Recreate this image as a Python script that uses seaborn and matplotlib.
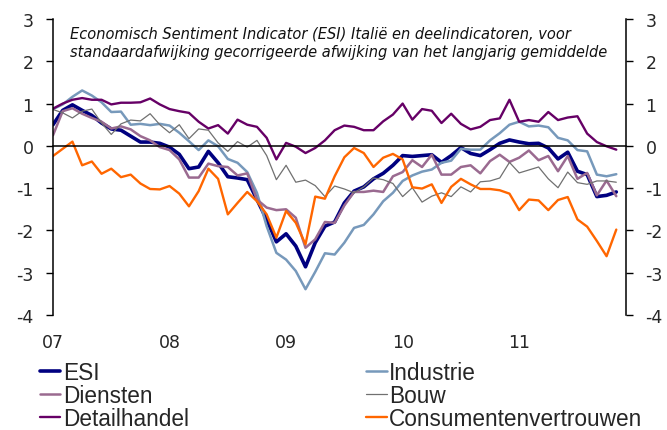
import numpy as np
import pandas as pd
import matplotlib
matplotlib.use("Agg")
import matplotlib.pyplot as plt
import seaborn as sns

esi = [0.50, 0.84, 0.97, 0.84, 0.72, 0.54, 0.40, 0.37, 0.23, 0.09, 0.09, 0.06, -0.03, -0.20, -0.54, -0.50,
       -0.13, -0.40, -0.73, -0.76, -0.80, -1.27, -1.74, -2.27, -2.08, -2.37, -2.86, -2.29, -1.90, -1.80, -1.35, -1.07,
       -0.97, -0.78, -0.65, -0.46, -0.23, -0.25, -0.23, -0.21, -0.39, -0.23, -0.04, -0.18, -0.23, -0.09, 0.06, 0.14,
       0.09, 0.05, 0.06, -0.05, -0.31, -0.15, -0.60, -0.68, -1.20, -1.17, -1.09]
industrie = [0.87, 0.98, 1.16, 1.31, 1.19, 1.03, 0.80, 0.81, 0.50, 0.52, 0.49, 0.52, 0.48, 0.31, 0.11, -0.10,
             0.13, -0.01, -0.31, -0.40, -0.62, -1.11, -1.90, -2.53, -2.69, -2.96, -3.39, -2.98, -2.54, -2.57, -2.29, -1.94,
             -1.87, -1.62, -1.31, -1.11, -0.83, -0.70, -0.61, -0.56, -0.40, -0.35, -0.07, -0.09, -0.09, 0.13, 0.30, 0.50,
             0.57, 0.46, 0.48, 0.44, 0.19, 0.13, -0.10, -0.13, -0.68, -0.72, -0.67]
diensten = [0.25, 0.82, 0.89, 0.76, 0.66, 0.57, 0.41, 0.46, 0.39, 0.23, 0.13, -0.03, -0.10, -0.32, -0.75, -0.75,
            -0.42, -0.48, -0.50, -0.70, -0.65, -1.27, -1.46, -1.52, -1.50, -1.70, -2.41, -2.21, -1.80, -1.82, -1.41, -1.09,
            -1.09, -1.06, -1.09, -0.72, -0.62, -0.34, -0.50, -0.21, -0.68, -0.68, -0.50, -0.46, -0.65, -0.36, -0.21, -0.38,
            -0.28, -0.11, -0.34, -0.24, -0.60, -0.24, -0.78, -0.64, -1.17, -0.82, -1.19]
bouw = [0.86, 0.78, 0.66, 0.82, 0.87, 0.54, 0.27, 0.52, 0.61, 0.59, 0.76, 0.50, 0.31, 0.50, 0.17, 0.40,
        0.37, 0.07, -0.13, 0.10, -0.03, 0.13, -0.23, -0.80, -0.46, -0.86, -0.81, -0.94, -1.20, -0.95, -1.02, -1.11,
        -0.97, -0.76, -0.80, -0.89, -1.20, -0.99, -1.33, -1.19, -1.11, -1.20, -0.97, -1.09, -0.85, -0.83, -0.76, -0.39,
        -0.64, -0.57, -0.50, -0.78, -0.99, -0.62, -0.87, -0.91, -0.83, -0.83, -0.86]
detailhandel = [0.88, 1.00, 1.09, 1.13, 1.09, 1.09, 0.98, 1.02, 1.02, 1.03, 1.12, 0.98, 0.87, 0.82, 0.78, 0.57,
                0.41, 0.49, 0.29, 0.62, 0.50, 0.45, 0.19, -0.32, 0.07, -0.02, -0.17, -0.05, 0.13, 0.37, 0.48, 0.45,
                0.37, 0.37, 0.58, 0.74, 1.00, 0.62, 0.87, 0.83, 0.54, 0.76, 0.52, 0.39, 0.45, 0.61, 0.65, 1.09,
                0.57, 0.61, 0.57, 0.80, 0.61, 0.67, 0.70, 0.29, 0.09, -0.01, -0.09]
consument = [-0.24, -0.07, 0.10, -0.46, -0.37, -0.66, -0.54, -0.74, -0.68, -0.89, -1.02, -1.03, -0.95, -1.13, -1.43, -1.07,
             -0.54, -0.78, -1.62, -1.35, -1.09, -1.31, -1.62, -2.17, -1.54, -1.82, -2.33, -1.20, -1.25, -0.72, -0.27, -0.05,
             -0.17, -0.50, -0.28, -0.19, -0.32, -0.98, -1.01, -0.91, -1.35, -0.97, -0.78, -0.91, -1.02, -1.02, -1.05, -1.13,
             -1.52, -1.27, -1.29, -1.52, -1.28, -1.21, -1.74, -1.91, -2.25, -2.61, -1.98]

namen = ["ESI", "Industrie", "Diensten", "Bouw", "Detailhandel", "Consumentenvertrouwen"]
reeksen = [esi, industrie, diensten, bouw, detailhandel, consument]
kleuren = ["#000080", "#7799BB", "#9A6A90", "#707070", "#660066", "#FF6600"]
diktes = [2.6, 1.8, 1.8, 0.9, 1.7, 1.7]

jaar_labels = ["07", "08", "09", "10", "11"]
jaar_pos = [0, 12, 24, 36, 48]

titel = ("Economisch Sentiment Indicator (ESI) Italië en deelindicatoren, voor\n"
         "standaardafwijking gecorrigeerde afwijking van het langjarig gemiddelde")

sns.set_style("white")
plt.rcParams["font.family"] = ["DejaVu Sans"]
plt.rcParams["axes.unicode_minus"] = False

fig = plt.figure(figsize=(6.67, 4.31), dpi=100)
ax = fig.add_axes([53 / 667, 1 - 316 / 431, 573 / 667, 296 / 431])

maanden = np.arange(len(esi))
lijnen = {}
for naam, waarden, kleur, lw in zip(namen, reeksen, kleuren, diktes):
    sns.lineplot(x=maanden, y=waarden, color=kleur, lw=lw, ax=ax)
    lijnen[naam] = ax.lines[-1]

ax.set_xlim(0, 59)
ax.set_ylim(-4, 3)
ax.set_yticks(range(-4, 4))
ax.yaxis.set_ticks_position("both")
ax.tick_params(axis="y", which="both", direction="out", length=5, width=1, color="black",
               labelsize=12.5, labelleft=True, labelright=True, pad=9)

# x-as op nul, jaarstreepjes naar beneden
ax.spines["bottom"].set_position(("data", 0))
ax.spines["bottom"].set_color("black")
ax.spines["bottom"].set_linewidth(1.1)
ax.spines["top"].set_visible(False)
for s in ["left", "right"]:
    ax.spines[s].set_color("black")
    ax.spines[s].set_linewidth(1.1)
ax.set_xticks(jaar_pos)
ax.tick_params(axis="x", direction="out", length=5, color="#808080", labelbottom=False)

sec = ax.secondary_xaxis("bottom")
sec.set_xticks(jaar_pos, labels=jaar_labels)
sec.spines["bottom"].set_visible(False)
sec.tick_params(length=0, pad=13, labelsize=12.5)

ax.text(0.03, 0.978, titel, transform=ax.transAxes, ha="left", va="top",
        fontsize=10.5, style="italic", color="#111111", linespacing=1.3)

volgorde = ["ESI", "Diensten", "Detailhandel", "Industrie", "Bouw", "Consumentenvertrouwen"]
fig.legend([lijnen[n] for n in volgorde], volgorde, loc="upper left",
           bbox_to_anchor=(40 / 667, 1 - 362 / 431), ncol=2, frameon=False,
           prop={"family": "Liberation Sans", "size": 16.3},
           handlelength=0.9, handletextpad=0.1, columnspacing=7.85,
           labelspacing=0.0, borderpad=0, borderaxespad=0)

fig.savefig("out.png", dpi=100)
plt.close(fig)
